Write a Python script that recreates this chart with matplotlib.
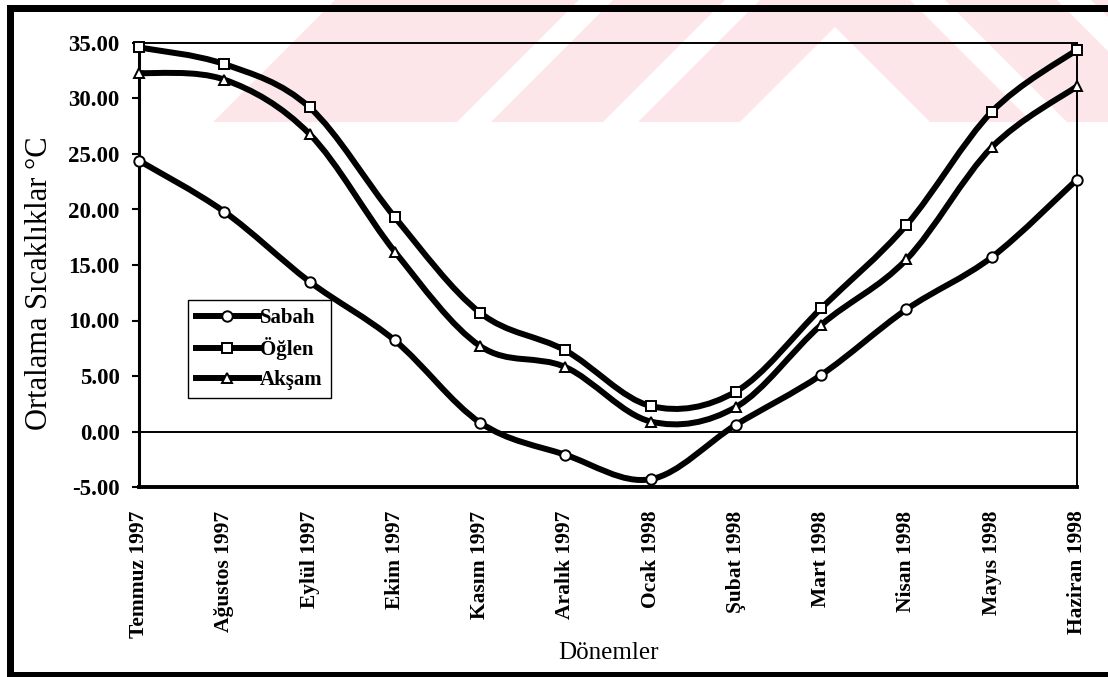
# coding=utf-8
""" Ortalama sicakliklar (Sabah / Ogle / Aksam), Temmuz 1997 - Haziran 1998.
"""
from matplotlib import pyplot as plt
from matplotlib.path import Path
from matplotlib.patches import PathPatch, Rectangle, Polygon
from matplotlib.lines import Line2D
import numpy as np

months = ['Temmuz 1997', 'Ağustos 1997', 'Eylül 1997', 'Ekim 1997',
          'Kasım 1997', 'Aralık 1997', 'Ocak 1998', 'Şubat 1998',
          'Mart 1998', 'Nisan 1998', 'Mayıs 1998', 'Haziran 1998']
sabah = [24.4, 19.8, 13.5, 8.2, 0.8, -2.1, -4.3, 0.6, 5.1, 11.0, 15.7, 22.7]
oglen = [34.6, 33.1, 29.2, 19.3, 10.7, 7.3, 2.3, 3.6, 11.1, 18.6, 28.8, 34.4]
aksam = [32.3, 31.7, 26.8, 16.2, 7.7, 5.8, 0.9, 2.2, 9.6, 15.5, 25.6, 31.1]
series_names = ['Sabah', 'Öğlen', 'Akşam']
series_markers = ['o', 's', '^']
y_ticks = [-5, 0, 5, 10, 15, 20, 25, 30, 35]

W, H = 1108, 677
plt.rcParams['font.family'] = ['Liberation Serif', 'DejaVu Serif']
plt.rcParams['axes.unicode_minus'] = False


def smooth_path(x, y) -> Path:
    """ Excel-like smoothed line: cubic Bezier through every point. """
    pts = np.column_stack([x, y]).astype(float)
    n = len(pts)
    verts, codes = [pts[0]], [Path.MOVETO]
    for i in range(n - 1):
        p0 = pts[i - 1] if i > 0 else pts[i]
        p1, p2 = pts[i], pts[i + 1]
        p3 = pts[i + 2] if i + 2 < n else pts[i + 1]
        verts += [p1 + (p2 - p0) / 6.0, p2 - (p3 - p1) / 6.0, p2]
        codes += [Path.CURVE4] * 3
    return Path(verts, codes)


def px(x, y):
    """ pixel position (origin top left) -> figure fraction """
    return (x / W, 1 - y / H)


fig = plt.figure(figsize=(W / 100, H / 100), dpi=100)

# faint watermark chevrons at the top of the scan
cx, yb = 835, 122
for s, col in [(500, '#fce6ea'), (256, 'white'), (222, '#fce6ea'),
               (110, 'white'), (75, '#fce6ea'), (-27, 'white')]:
    if s > 0:
        pts = [px(cx - s, 0), px(cx + s, 0), px(cx + yb + s, yb), px(cx - yb - s, yb)]
    else:
        pts = [px(cx, -s), px(cx + yb + s, yb), px(cx - yb - s, yb)]
    fig.patches.append(Polygon(pts, closed=True, transform=fig.transFigure,
                               facecolor=col, edgecolor='none', zorder=-2))

# thick black frame of the scanned page
for x0, y0, x1, y1 in [(7, 5, W, 12), (7, 5, 14, H), (7, 672, W, H)]:
    fig.patches.append(Rectangle(px(x0, y1), (x1 - x0) / W, (y1 - y0) / H,
                                 transform=fig.transFigure, facecolor='black',
                                 edgecolor='none', zorder=-1))

ax = fig.add_axes([139 / W, 1 - 487 / H, (1077 - 139) / W, (487 - 43) / H])
ax.set_facecolor('none')

x = np.arange(len(months))
for vals, mk in zip([sabah, oglen, aksam], series_markers):
    ax.add_patch(PathPatch(smooth_path(x, vals), fill=False, lw=4.3,
                           edgecolor='black', capstyle='round', zorder=3))
    ax.plot(x, vals, ls='none', marker=mk, ms=7.5, mfc='white', mec='black',
            mew=1.4, clip_on=False, zorder=4)

ax.axhline(0, color='black', lw=1.4, zorder=2)
ax.set_xlim(0, len(months) - 1)
ax.set_ylim(-5, 35)

ax.set_yticks(y_ticks)
ax.set_yticklabels([f'{v:.2f}' for v in y_ticks], fontsize=16.5, fontweight='bold')
ax.tick_params(axis='y', direction='out', length=5, width=1.5, pad=9)
ax.set_xticks(x)
ax.set_xticklabels(months, rotation=90, fontsize=15.5, fontweight='bold')
ax.tick_params(axis='x', length=0, pad=17)

ax.spines['left'].set_linewidth(2.2)
ax.spines['bottom'].set_linewidth(2.8)
ax.spines['top'].set_linewidth(1.4)
ax.spines['right'].set_linewidth(1.4)

ax.text(-0.106, 0.128, 'Ortalama Sıcaklıklar °C', rotation=90, fontsize=22,
        ha='center', va='bottom', transform=ax.transAxes)
ax.set_xlabel('Dönemler', fontsize=18)
ax.xaxis.set_label_coords(0.5, -0.374)
ax.xaxis.label.set_va('center')

handles = [Line2D([], [], color='black', lw=4.3, marker=mk, ms=7.5, mfc='white',
                  mec='black', mew=1.4) for mk in series_markers]
leg = ax.legend(handles, series_names, loc='lower left', bbox_to_anchor=(0.052, 0.2),
                borderaxespad=0, fancybox=False, framealpha=1, edgecolor='black',
                prop={'size': 15, 'weight': 'bold'}, handlelength=3.0,
                handletextpad=0.05, labelspacing=0.45, borderpad=0.4)
leg.get_frame().set_linewidth(1.0)
leg.set_zorder(5)

fig.savefig('out.png', dpi=100)
